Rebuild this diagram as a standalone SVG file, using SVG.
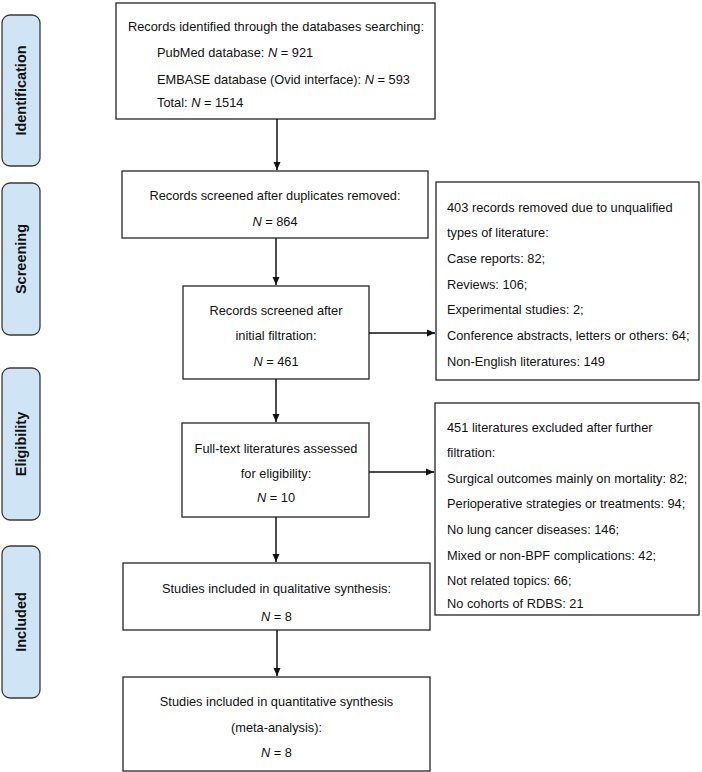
<svg xmlns="http://www.w3.org/2000/svg" width="702" height="772" viewBox="0 0 702 772">
<style>
.box{fill:#fff;stroke:#262626;stroke-width:1.3}
.side{fill:#cfe5f6;stroke:#3a3a3a;stroke-width:1.3}
.t{font-family:"Liberation Sans",Arial,sans-serif;font-size:12.8px;fill:#111}
.c{text-anchor:middle}
.s{font-family:"Liberation Sans",Arial,sans-serif;font-size:14.5px;font-weight:bold;fill:#111;text-anchor:middle}
.i{font-style:italic}
.ln{stroke:#111;stroke-width:1.5;fill:none}
</style>
<defs>
<marker id="ah" markerWidth="10" markerHeight="10" refX="9" refY="5" orient="auto" markerUnits="userSpaceOnUse">
<path d="M1,1.5 L9,5 L1,8.5 Z" fill="#111"/>
</marker>
</defs>
<rect width="702" height="772" fill="#fff"/>
<g id="stage-identification">
<rect class="side" x="2" y="15" width="38" height="151" rx="8"/>
<text class="s" transform="translate(26,90.5) rotate(-90)">Identification</text>
</g>
<g id="stage-screening">
<rect class="side" x="2" y="183" width="38" height="152" rx="8"/>
<text class="s" transform="translate(26,259) rotate(-90)">Screening</text>
</g>
<g id="stage-eligibility">
<rect class="side" x="2" y="368" width="38" height="152" rx="8"/>
<text class="s" transform="translate(26,444) rotate(-90)">Eligibility</text>
</g>
<g id="stage-included">
<rect class="side" x="2" y="546" width="38" height="152" rx="8"/>
<text class="s" transform="translate(26,622) rotate(-90)">Included</text>
</g>
<g id="n-identified">
<rect class="box" x="116" y="3" width="319" height="116"/>
<text class="t" x="128" y="31">Records identified through the databases searching:</text>
<text class="t" x="157" y="57">PubMed database: <tspan class="i">N</tspan> = 921</text>
<text class="t" x="157" y="84">EMBASE database (Ovid interface): <tspan class="i">N</tspan> = 593</text>
<text class="t" x="157" y="107">Total: <tspan class="i">N</tspan> = 1514</text>
</g>
<g id="n-dedup">
<rect class="box" x="122" y="171" width="306" height="67"/>
<text class="t c" x="275" y="200">Records screened after duplicates removed:</text>
<text class="t c" x="275" y="226"><tspan class="i">N</tspan> = 864</text>
</g>
<g id="n-initial">
<rect class="box" x="183" y="286" width="186" height="93"/>
<text class="t c" x="276" y="315">Records screened after</text>
<text class="t c" x="276" y="340">initial filtration:</text>
<text class="t c" x="276" y="366"><tspan class="i">N</tspan> = 461</text>
</g>
<g id="n-removed">
<rect class="box" x="436" y="182" width="263" height="198"/>
<text class="t" x="447" y="212">403 records removed due to unqualified</text>
<text class="t" x="447" y="237">types of literature:</text>
<text class="t" x="447" y="263">Case reports: 82;</text>
<text class="t" x="447" y="289">Reviews: 106;</text>
<text class="t" x="447" y="314">Experimental studies: 2;</text>
<text class="t" x="447" y="340">Conference abstracts, letters or others: 64;</text>
<text class="t" x="447" y="366">Non-English literatures: 149</text>
</g>
<g id="n-fulltext">
<rect class="box" x="182" y="423" width="187" height="94"/>
<text class="t c" x="276" y="453">Full-text literatures assessed</text>
<text class="t c" x="276" y="478">for eligibility:</text>
<text class="t c" x="276" y="502"><tspan class="i">N</tspan> = 10</text>
</g>
<g id="n-excluded">
<rect class="box" x="435" y="403" width="264" height="212"/>
<text class="t" x="447" y="432">451 literatures excluded after further</text>
<text class="t" x="447" y="457">filtration:</text>
<text class="t" x="447" y="483">Surgical outcomes mainly on mortality: 82;</text>
<text class="t" x="447" y="508">Perioperative strategies or treatments: 94;</text>
<text class="t" x="447" y="534">No lung cancer diseases: 146;</text>
<text class="t" x="447" y="560">Mixed or non-BPF complications: 42;</text>
<text class="t" x="447" y="585">Not related topics: 66;</text>
<text class="t" x="447" y="608">No cohorts of RDBS: 21</text>
</g>
<g id="n-qualitative">
<rect class="box" x="123" y="563" width="307" height="67"/>
<text class="t c" x="276.5" y="593">Studies included in qualitative synthesis:</text>
<text class="t c" x="276.5" y="621"><tspan class="i">N</tspan> = 8</text>
</g>
<g id="n-quantitative">
<rect class="box" x="123" y="677" width="307" height="94"/>
<text class="t c" x="276.5" y="706">Studies included in quantitative synthesis</text>
<text class="t c" x="276.5" y="732">(meta-analysis):</text>
<text class="t c" x="276.5" y="757"><tspan class="i">N</tspan> = 8</text>
</g>
<g id="connectors">
<line class="ln" x1="277" y1="119" x2="277" y2="170" marker-end="url(#ah)"/>
<line class="ln" x1="276" y1="238" x2="276" y2="285" marker-end="url(#ah)"/>
<line class="ln" x1="276" y1="379" x2="276" y2="422" marker-end="url(#ah)"/>
<line class="ln" x1="276" y1="517" x2="276" y2="562" marker-end="url(#ah)"/>
<line class="ln" x1="277" y1="630" x2="277" y2="676" marker-end="url(#ah)"/>
<line class="ln" x1="369" y1="333" x2="435" y2="333" marker-end="url(#ah)"/>
<line class="ln" x1="369" y1="472" x2="434" y2="472" marker-end="url(#ah)"/>
</g>
</svg>
